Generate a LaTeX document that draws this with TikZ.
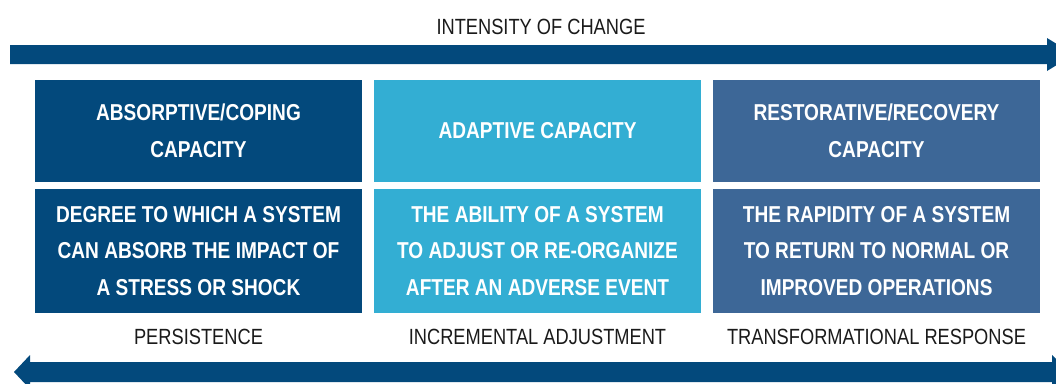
\documentclass[tikz,border=0pt]{standalone}
\usepackage{fontspec}
\newfontfamily\condfont{Liberation Sans}[FakeStretch=0.83]
\definecolor{navy}{HTML}{03497C}
\definecolor{sky}{HTML}{33AED3}
\definecolor{steel}{HTML}{3D6797}
\definecolor{labelgray}{HTML}{1A1A1A}
\begin{document}
\begin{tikzpicture}[x=1pt,y=-1pt,
  box/.style={fill=#1, text=white, inner sep=0pt, align=center,
    minimum width=327pt, font=\condfont\bfseries\fontsize{23}{36.5}\selectfont},
  toprow/.style={minimum height=102pt},
  botrow/.style={minimum height=124pt},
  lbl/.style={text=labelgray, inner sep=0pt, font=\condfont\fontsize{22}{24}\selectfont}]
\useasboundingbox (0,0) rectangle (1056,383);
\clip (0,0) rectangle (1056,383);
% top arrow
\fill[navy] (10,45) -- (1047,45) -- (1047,38) -- (1074,54.5) -- (1047,71) -- (1047,64) -- (10,64) -- cycle;
% bottom arrow
\fill[navy] (1052,362) -- (30,362) -- (30,355) -- (14,372) -- (30,389) -- (30,382) -- (1052,382) -- (1052,389) -- (1070,372) -- (1052,355) -- cycle;
\node[lbl] (intensity) at (541,27) {INTENSITY OF CHANGE};
% boxes
\node[box=navy, toprow] (abs) at (198.5,131) {ABSORPTIVE/COPING\\CAPACITY};
\node[box=sky, toprow] (ada) at (537.5,131) {ADAPTIVE CAPACITY};
\node[box=steel, toprow] (res) at (876.5,131) {RESTORATIVE/RECOVERY\\CAPACITY};
\node[box=navy, botrow] (absd) at (198.5,251) {DEGREE TO WHICH A SYSTEM\\CAN ABSORB THE IMPACT OF\\A STRESS OR SHOCK};
\node[box=sky, botrow] (adad) at (537.5,251) {THE ABILITY OF A SYSTEM\\TO ADJUST OR RE-ORGANIZE\\AFTER AN ADVERSE EVENT};
\node[box=steel, botrow] (resd) at (876.5,251) {THE RAPIDITY OF A SYSTEM\\TO RETURN TO NORMAL OR\\IMPROVED OPERATIONS};
% bottom labels
\node[lbl] (pers) at (198.5,337) {PERSISTENCE};
\node[lbl] (incr) at (537.5,337) {INCREMENTAL ADJUSTMENT};
\node[lbl] (trans) at (876.5,337) {TRANSFORMATIONAL RESPONSE};
\end{tikzpicture}
\end{document}
